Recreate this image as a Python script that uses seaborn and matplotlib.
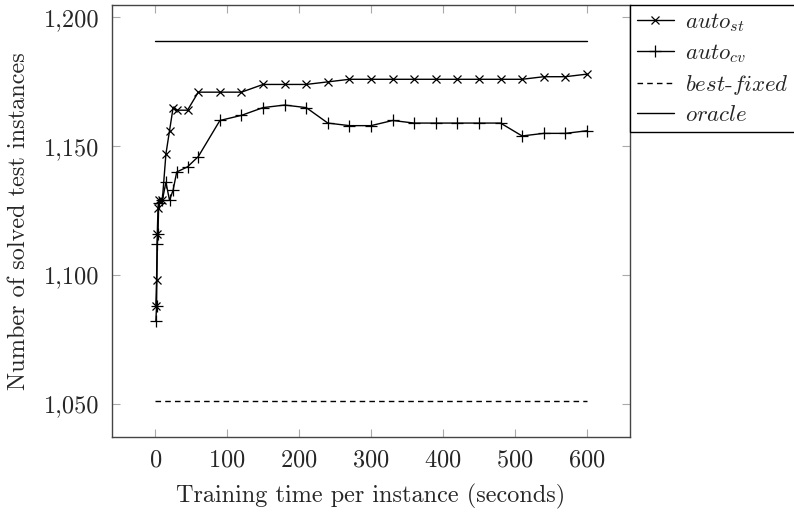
import numpy as np
import pandas as pd
import matplotlib
matplotlib.use('Agg')
import matplotlib.pyplot as plt
from matplotlib.ticker import FuncFormatter
import seaborn as sns

# training time (s) and solved test instances
times = [1, 2, 3, 4, 5, 10, 15, 20, 25, 30, 45, 60, 90, 120, 150, 180, 210,
         240, 270, 300, 330, 360, 390, 420, 450, 480, 510, 540, 570, 600]
auto_st = [1088, 1098, 1116, 1126, 1129, 1129, 1147, 1156, 1165, 1164, 1164, 1171,
           1171, 1171, 1174, 1174, 1174, 1175, 1176, 1176, 1176, 1176, 1176, 1176,
           1176, 1176, 1176, 1177, 1177, 1178]
auto_cv = [1082, 1088, 1112, 1116, 1128, 1129, 1136, 1129, 1133, 1140, 1142, 1146,
           1160, 1162, 1165, 1166, 1165, 1159, 1158, 1158, 1160, 1159, 1159, 1159,
           1159, 1159, 1154, 1155, 1155, 1156]
ref_times = [0, 600]
best_fixed = [1051, 1051]
oracle = [1191, 1191]

sns.set_style('ticks')
plt.rcParams['font.family'] = ['cmr10', 'DejaVu Serif']
plt.rcParams['mathtext.fontset'] = 'cm'
plt.rcParams['axes.formatter.use_mathtext'] = True

fig = plt.figure(figsize=(7.94, 5.12), dpi=100)
ax = fig.add_axes([0.141, 0.146, 0.6525, 0.845])

sns.lineplot(x=times, y=auto_st, ax=ax, color='black', lw=1, marker='x', ms=6,
             mew=0.9, mec='black', label=r'$auto_{st}$')
sns.lineplot(x=times, y=auto_cv, ax=ax, color='black', lw=1, marker='+', ms=9,
             mew=0.9, mec='black', label=r'$auto_{cv}$')
sns.lineplot(x=ref_times, y=best_fixed, ax=ax, color='black', lw=1,
             linestyle=(0, (4, 3)), label=r'$best$-$fixed$')
sns.lineplot(x=ref_times, y=oracle, ax=ax, color='black', lw=1, label=r'$oracle$')

ax.set_xlim(-60, 660)
ax.set_ylim(1037, 1205)
ax.set_xticks([0, 100, 200, 300, 400, 500, 600])
ax.set_yticks([1050, 1100, 1150, 1200])
ax.yaxis.set_major_formatter(FuncFormatter(lambda v, p: f'{v:,.0f}'))
ax.tick_params(direction='in', top=True, right=True, length=6, width=0.8,
               color='#aaaaaa', labelsize=17.5, pad=9)
for s in ax.spines.values():
    s.set_color('#444444')
    s.set_linewidth(1)

ax.set_xlabel('Training time per instance (seconds)', fontsize=17.5, labelpad=9)
ax.set_ylabel('Number of solved test instances', fontsize=17.5, labelpad=10)

leg = ax.legend(loc='upper left', bbox_to_anchor=(1.0, 1.0), fontsize=16.5,
                frameon=True, fancybox=False, edgecolor='black', framealpha=1,
                handlelength=1.6, borderpad=0.3, labelspacing=0.35,
                handletextpad=0.5, borderaxespad=0)
leg.get_frame().set_linewidth(1)

fig.savefig('out.png', dpi=100)
